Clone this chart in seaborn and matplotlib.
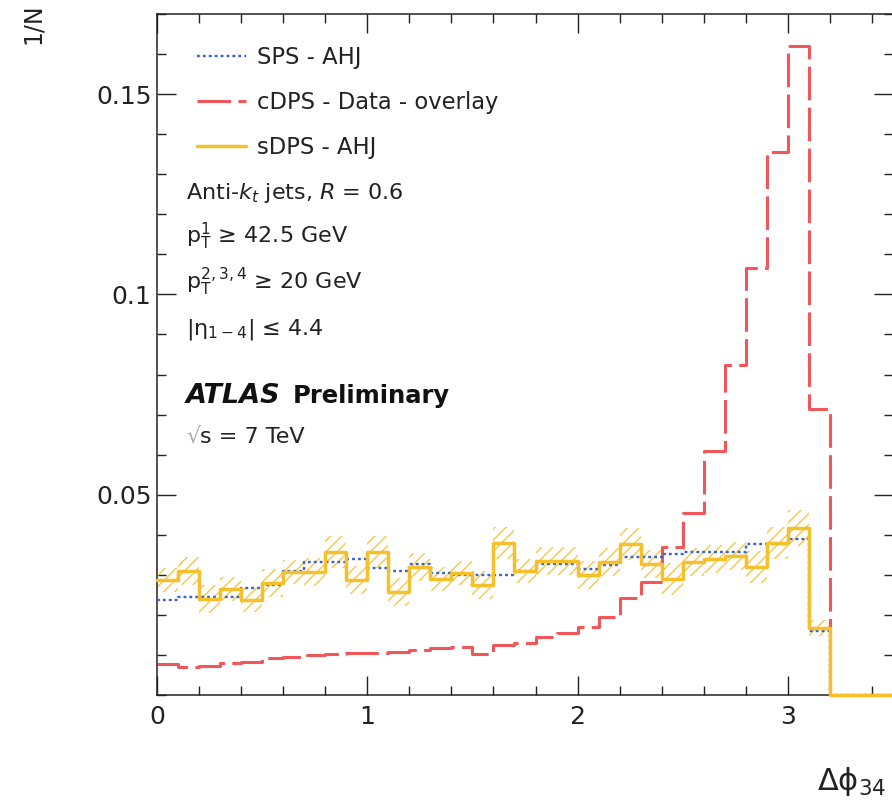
import numpy as np
import pandas as pd
import matplotlib
matplotlib.use("Agg")
import matplotlib.pyplot as plt
import seaborn as sns
from matplotlib.lines import Line2D
from matplotlib.ticker import FixedLocator, MultipleLocator, FixedFormatter

# ---------------- data ----------------
bin_low = [0.0, 0.1, 0.2, 0.3, 0.4, 0.5, 0.6, 0.7, 0.8, 0.9,
           1.0, 1.1, 1.2, 1.3, 1.4, 1.5, 1.6, 1.7, 1.8, 1.9,
           2.0, 2.1, 2.2, 2.3, 2.4, 2.5, 2.6, 2.7, 2.8, 2.9,
           3.0, 3.1]
hist_end = 3.2
x_max = 3.5

sps_ahj = [0.0238, 0.0245, 0.0245, 0.0245, 0.0267, 0.0275, 0.0310, 0.0333, 0.0333, 0.0340,
           0.0318, 0.0310, 0.0328, 0.0305, 0.0300, 0.0300, 0.0300, 0.0310, 0.0328, 0.0328,
           0.0315, 0.0325, 0.0345, 0.0345, 0.0352, 0.0357, 0.0357, 0.0357, 0.0378, 0.0378,
           0.0390, 0.0160]

cdps_overlay = [0.0077, 0.0071, 0.0073, 0.0081, 0.0083, 0.0092, 0.0096, 0.0100, 0.0102, 0.0104,
                0.0105, 0.0108, 0.0112, 0.0117, 0.0120, 0.0103, 0.0125, 0.0131, 0.0144, 0.0155,
                0.0170, 0.0195, 0.0243, 0.0283, 0.0370, 0.0455, 0.0610, 0.0825, 0.1065, 0.1355,
                0.1620, 0.0715]

sdps_ahj = [0.0288, 0.0310, 0.0240, 0.0265, 0.0237, 0.0280, 0.0307, 0.0307, 0.0357, 0.0288,
            0.0357, 0.0258, 0.0320, 0.0290, 0.0305, 0.0275, 0.0380, 0.0310, 0.0335, 0.0335,
            0.0300, 0.0333, 0.0378, 0.0328, 0.0290, 0.0333, 0.0340, 0.0348, 0.0320, 0.0380,
            0.0418, 0.0168]

sdps_err = [0.0030, 0.0035, 0.0035, 0.0030, 0.0030, 0.0035, 0.0030, 0.0035, 0.0040, 0.0035,
            0.0040, 0.0035, 0.0035, 0.0030, 0.0030, 0.0035, 0.0040, 0.0030, 0.0035, 0.0035,
            0.0035, 0.0035, 0.0040, 0.0035, 0.0040, 0.0035, 0.0035, 0.0035, 0.0040, 0.0040,
            0.0045, 0.0020]

labels = ["SPS - AHJ", "cDPS - Data - overlay", "sDPS - AHJ"]
x_ticks = [0, 1, 2, 3]
y_ticks = [0.05, 0.1, 0.15]
y_tick_labels = ["0.05", "0.1", "0.15"]

# ---------------- style ----------------
sns.set_theme(style="ticks")
plt.rcParams["font.family"] = ["DejaVu Sans"]
plt.rcParams["mathtext.fontset"] = "dejavusans"
plt.rcParams["hatch.linewidth"] = 1.0

C_BLUE = "#3562cc"
C_RED = "#f0565a"
C_YEL = "#f5c02a"
C_HATCH = "#f5c84a"
C_TXT = "#222222"

W, H = 892, 810
fig = plt.figure(figsize=(W / 100, H / 100), dpi=100)
ax = fig.add_axes([157 / W, (H - 695) / H, 736 / W, 681 / H])


def fx(px):
    return px / W


def fy(py):
    return 1 - py / H


# step-curve tables: bin lower edges + end of histogram + end of axis
x_steps = bin_low + [hist_end, x_max]
df = pd.DataFrame({
    "x": x_steps,
    "sps": sps_ahj + [0.0, 0.0],
    "cdps": cdps_overlay + [0.0, 0.0],
    "sdps": sdps_ahj + [0.0, 0.0],
})

# hatched uncertainty band for sDPS
lo = [v - e for v, e in zip(sdps_ahj, sdps_err)]
hi = [v + e for v, e in zip(sdps_ahj, sdps_err)]
ax.fill_between(bin_low + [hist_end], lo + [lo[-1]], hi + [hi[-1]], step="post",
                facecolor="none", edgecolor=C_HATCH, hatch="///", linewidth=0, zorder=1)

common = dict(estimator=None, sort=False, drawstyle="steps-post", ax=ax, legend=False)
sns.lineplot(data=df, x="x", y="cdps", color=C_RED, linewidth=2.2,
             linestyle=(0, (11, 2.4)), zorder=2, **common)
sns.lineplot(data=df, x="x", y="sps", color=C_BLUE, linewidth=1.7,
             linestyle=(0, (1.2, 1.3)), zorder=3, **common)
sns.lineplot(data=df, x="x", y="sdps", color=C_YEL, linewidth=2.5,
             linestyle="-", zorder=4, **common)
for ln in ax.get_lines():
    ln.set_clip_on(False)

ax.set_xlim(0, x_max)
ax.set_ylim(0, 0.17)
ax.set_xlabel("")
ax.set_ylabel("")

ax.xaxis.set_major_locator(FixedLocator(x_ticks))
ax.xaxis.set_minor_locator(MultipleLocator(0.2))
ax.yaxis.set_major_locator(FixedLocator(y_ticks))
ax.yaxis.set_major_formatter(FixedFormatter(y_tick_labels))
ax.yaxis.set_minor_locator(MultipleLocator(0.01))
ax.tick_params(which="both", direction="in", top=True, right=True,
               color=C_TXT, width=1.0, labelcolor=C_TXT, labelsize=18)
ax.tick_params(which="major", length=14)
ax.tick_params(which="minor", length=6.5)
ax.tick_params(axis="x", pad=7)
ax.tick_params(axis="y", pad=4)
for sp in ax.spines.values():
    sp.set_color(C_TXT)
    sp.set_linewidth(1.1)
    sp.set_visible(True)

# legend
handles = [
    Line2D([], [], color=C_BLUE, linewidth=1.7, linestyle=(0, (1.2, 1.3))),
    Line2D([], [], color=C_RED, linewidth=2.2, linestyle=(0, (11, 2.4))),
    Line2D([], [], color=C_YEL, linewidth=2.5, linestyle="-"),
]
ax.legend(handles, labels, loc="upper left", bbox_to_anchor=(fx(197), fy(46)),
          bbox_transform=fig.transFigure, frameon=False, fontsize=16.3,
          borderpad=0, borderaxespad=0, handlelength=2.15, handletextpad=0.5,
          labelspacing=0.98, labelcolor=C_TXT)

# annotation block
tx = 186
fig.text(fx(tx), fy(199), r"Anti-$k_t$ jets, $R$ = 0.6", fontsize=16,
         va="baseline", ha="left", color=C_TXT)
fig.text(fx(tx), fy(243), r"p$_\mathregular{T}^\mathregular{1}$ ≥ 42.5 GeV", fontsize=16,
         va="baseline", ha="left", color=C_TXT)
fig.text(fx(tx), fy(289), r"p$_\mathregular{T}^\mathregular{2,3,4}$ ≥ 20 GeV", fontsize=16,
         va="baseline", ha="left", color=C_TXT)
fig.text(fx(tx), fy(334), r"|η$_\mathregular{1-4}$| ≤ 4.4", fontsize=16,
         va="baseline", ha="left", color=C_TXT)
fig.text(fx(tx), fy(403), "ATLAS", fontsize=19.5, fontweight="bold", fontstyle="italic",
         va="baseline", ha="left", color="#111111")
fig.text(fx(tx + 107), fy(403), "Preliminary", fontsize=17.5, fontweight="bold",
         va="baseline", ha="left", color="#111111")
fig.text(fx(tx), fy(443), "√", fontsize=16, va="baseline", ha="left", color="#aaaaaa")
fig.text(fx(tx + 14), fy(443), "s = 7 TeV", fontsize=16, va="baseline", ha="left", color=C_TXT)

# axis titles (cropped in the reference)
fig.text(fx(33), fy(44), "1/N", fontsize=17, rotation=90, ha="center", va="bottom", color=C_TXT)
fig.text(fx(817), fy(790), r"Δϕ$_\mathregular{34}$", fontsize=22, ha="left", va="baseline",
         color=C_TXT)

fig.savefig("out.png", dpi=100)
